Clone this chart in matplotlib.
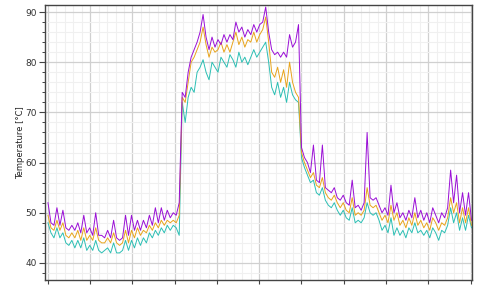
import numpy as np
import matplotlib.pyplot as plt
from matplotlib.ticker import MultipleLocator, NullFormatter

# sensor readings, one every 3 s
purple = [52, 48, 47.5, 51, 47.5, 50.5, 47, 46.5, 47.5, 46.5,
          48, 46, 49.5, 46, 47, 45.5, 50, 45.5, 45.5, 45,
          46.5, 45, 48.5, 45, 44.5, 45, 49.5, 45.5, 49.5, 46.5,
          48.5, 46.5, 48.5, 47, 49.5, 47.5, 51, 48, 51, 48.5,
          50.5, 49, 50, 49.5, 52,
          74, 73, 78, 81, 82.5, 84, 86, 89.5, 85, 82.5,
          85, 83, 84.5, 83.5, 85.5, 84, 85.5, 84.5, 88, 86,
          87, 85, 86.5, 85.5, 87.5, 86, 87.5, 88, 91, 86,
          82.5, 81.5, 82, 81, 82, 81, 85.5, 83, 84, 87.5,
          63, 61, 60, 58, 63.5, 56.5, 56, 63.5, 55, 54.5,
          54, 55, 53, 52.5, 53.5, 52, 51.5, 56.5, 51, 51.5,
          50.5, 52, 66, 53, 52.5, 53, 51.5, 50, 51, 49.5,
          55.5, 50, 52, 49, 50, 48.5, 50.5, 49, 53, 49,
          50.5, 48.5, 50, 48, 51, 49.5, 48, 50, 49, 51,
          58.5, 52, 57.5, 50, 54, 49.5, 54, 48.5]
orange = [49.5, 47, 46.5, 48.5, 46.5, 48, 45.5, 45, 46, 45,
          46.5, 44.5, 47, 44.5, 45.5, 44.5, 47, 44.5, 44, 44,
          45, 44, 46, 44, 43.5, 44, 46.5, 44, 46.5, 45,
          47, 45.5, 46.5, 46, 47.5, 46.5, 48, 47, 48.5, 47.5,
          48.5, 48, 48.5, 48, 49.5,
          73, 72, 76, 80, 81, 82.5, 84, 87, 83.5, 81,
          83, 82, 82.5, 84, 82, 83.5, 82, 84, 86, 83.5,
          85, 83, 84.5, 84, 86, 84, 85.5, 86.5, 89, 84,
          78, 77, 79, 76, 78.5, 75, 80, 76, 74, 73,
          62, 60, 58.5, 57, 58, 55.5, 55, 57, 54, 53,
          52.5, 53.5, 52, 51, 52, 50.5, 50, 53, 49.5, 50,
          49.5, 50.5, 55, 51.5, 51, 51.5, 50, 48.5, 49.5, 48,
          51.5, 48.5, 50, 47.5, 48.5, 47, 49, 47.5, 50, 47.5,
          48.5, 47, 48, 46.5, 49, 48, 46.5, 48, 47.5, 49,
          53, 50, 52, 48, 51, 48, 51, 47.5]
teal = [48, 46, 45, 47, 45, 46, 44, 43.5, 44.5, 43,
        44.5, 43, 45, 42.5, 43.5, 42.5, 44.5, 42.5, 42, 42.5,
        43, 42, 44, 42, 42, 42.5, 44.5, 42.5, 44.5, 43,
        45, 43.5, 45, 44, 46, 45, 46.5, 45.5, 47, 46,
        47.5, 46.5, 47.5, 47, 45.5,
        72, 68, 73, 75, 74, 78, 79, 80.5, 78, 76.5,
        80, 79, 78, 81, 80, 79, 81.5, 80.5, 79, 82,
        80, 81, 79.5, 81, 82.5, 81, 82, 83, 84, 80,
        75, 73.5, 76, 73, 75, 72, 76, 73.5, 72.5, 72,
        61, 59, 57.5, 56, 56.5, 54, 53.5, 55, 52.5, 51.5,
        51, 52, 50.5, 49.5, 50.5, 49, 48.5, 51, 48, 48.5,
        48, 49, 52, 50, 49.5, 50, 48.5, 46.5, 47.5, 46,
        49, 45.5, 47, 45.5, 46.5, 45, 47, 46, 48, 46,
        46.5, 45.5, 46.5, 45, 47, 46, 44.5, 46.5, 46, 47.5,
        51, 48, 50, 46.5, 49, 46.5, 49.5, 47]

t = np.arange(len(purple)) * 3

fig = plt.figure(figsize=(4.8, 2.86), dpi=100)
ax = fig.add_axes([45 / 480, 6 / 286, 427 / 480, 275 / 286])

ax.plot(t, teal, color='#2cbfb4', lw=0.7)
ax.plot(t, orange, color='#e8a41c', lw=0.7)
ax.plot(t, purple, color='#9a0fd6', lw=0.7)

ax.set_xlim(-3, 426.5)
ax.set_ylim(36.6, 91.4)

ax.xaxis.set_major_locator(MultipleLocator(42.5))
ax.xaxis.set_minor_locator(MultipleLocator(8.5))
ax.xaxis.set_major_formatter(NullFormatter())
ax.yaxis.set_major_locator(MultipleLocator(10))
ax.yaxis.set_minor_locator(MultipleLocator(2))

ax.grid(which='major', color='#d0d0d0', lw=0.9)
ax.grid(which='minor', color='#f0f0f0', lw=0.8)
ax.set_axisbelow(True)

ax.tick_params(axis='y', which='major', labelsize=6.5, labelcolor='#333333',
               length=4, width=0.8, color='#444444', pad=2)
ax.tick_params(axis='y', which='minor', length=2.5, width=0.7, color='#444444')
ax.tick_params(axis='x', which='major', length=3, width=0.8, color='#444444')
ax.tick_params(axis='x', which='minor', length=0)

for s in ax.spines.values():
    s.set_color('#444444')
    s.set_linewidth(1.0)

ax.set_ylabel('Temperature [°C]', fontsize=6, color='#222222', labelpad=0)

fig.savefig('out.png', dpi=100)
